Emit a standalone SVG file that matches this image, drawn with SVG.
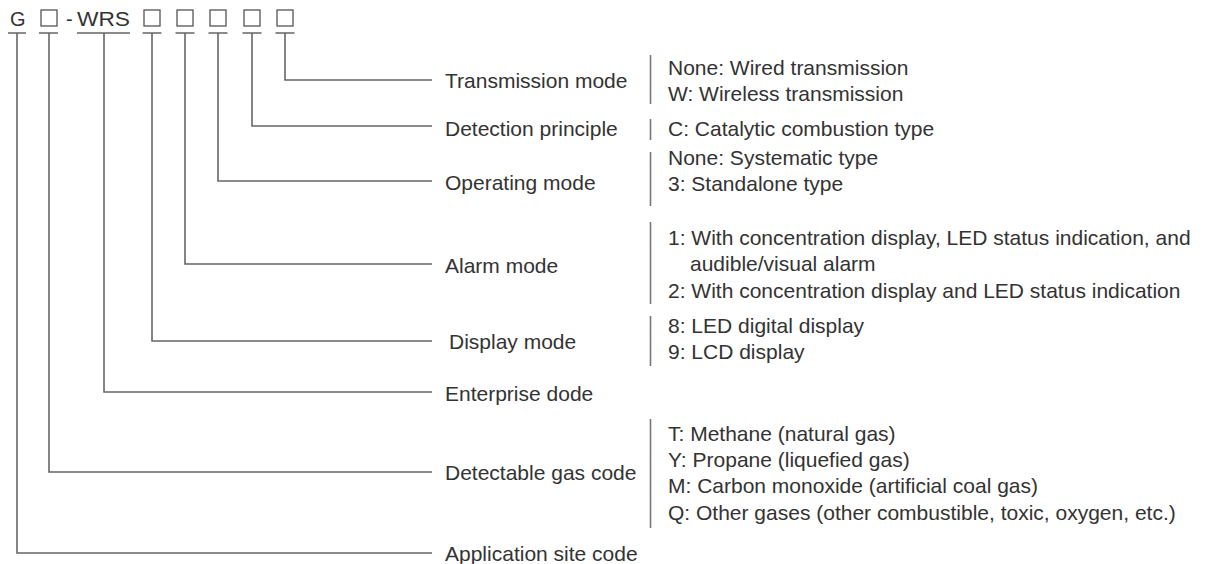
<svg xmlns="http://www.w3.org/2000/svg" width="1212" height="564" viewBox="0 0 1212 564">
<style>
text{font-family:"Liberation Sans",Arial,sans-serif;font-size:21px;fill:#333}
.hd{font-size:20px}
.ln{stroke:#666;stroke-width:1.6;fill:none}
.bar{stroke:#777;stroke-width:1.6;fill:none}
.box{stroke:#555;stroke-width:1.3;fill:none}
</style>
<rect width="1212" height="564" fill="#fff"/>
<g id="code">
<text class="hd" x="10" y="26">G</text>
<rect class="box" x="41" y="10" width="16" height="16"/>
<text class="hd" x="66" y="26">-</text>
<text class="hd" x="77" y="26" textLength="53" lengthAdjust="spacingAndGlyphs">WRS</text>
<rect class="box" x="144" y="10" width="16" height="16"/>
<rect class="box" x="177" y="10" width="16" height="16"/>
<rect class="box" x="210" y="10" width="16" height="16"/>
<rect class="box" x="244" y="10" width="16" height="16"/>
<rect class="box" x="277" y="10" width="16" height="16"/>
</g>
<g id="connectors">
<path class="ln" d="M8 33H26M39 33H58M77 33H130M142.5 33H161.5M175.5 33H194.5M208.5 33H227.5M242.5 33H261.5M275.5 33H294.5"/>
<path class="ln" d="M285 33V80H432"/>
<path class="ln" d="M252 33V126H432"/>
<path class="ln" d="M218 33V181H432"/>
<path class="ln" d="M185 33V264H432"/>
<path class="ln" d="M152 33V341H432"/>
<path class="ln" d="M104 33V392H432"/>
<path class="ln" d="M49 33V472H432"/>
<path class="ln" d="M17 33V553H432"/>
</g>
<g id="transmission">
<text x="445" y="88">Transmission mode</text>
<line class="bar" x1="650.5" y1="55" x2="650.5" y2="104"/>
<text x="668" y="74.5">None: Wired transmission</text>
<text x="668" y="101">W: Wireless transmission</text>
</g>
<g id="detection">
<text x="445" y="135.5">Detection principle</text>
<line class="bar" x1="650.5" y1="119" x2="650.5" y2="140"/>
<text x="668" y="136">C: Catalytic combustion type</text>
</g>
<g id="operating">
<text x="445" y="189.5">Operating mode</text>
<line class="bar" x1="650.5" y1="152" x2="650.5" y2="206"/>
<text x="668" y="164.5">None: Systematic type</text>
<text x="668" y="190.5">3: Standalone type</text>
</g>
<g id="alarm">
<text x="445" y="272.5">Alarm mode</text>
<line class="bar" x1="650.5" y1="222" x2="650.5" y2="304"/>
<text x="668" y="244.5">1: With concentration display, LED status indication, and</text>
<text x="690" y="270.5">audible/visual alarm</text>
<text x="668" y="297.5">2: With concentration display and LED status indication</text>
</g>
<g id="display">
<text x="449" y="348.5">Display mode</text>
<line class="bar" x1="650.5" y1="316" x2="650.5" y2="366"/>
<text x="668" y="332.5">8: LED digital display</text>
<text x="668" y="358.5">9: LCD display</text>
</g>
<g id="enterprise">
<text x="445" y="400.5">Enterprise dode</text>
</g>
<g id="gas">
<text x="445" y="479.5">Detectable gas code</text>
<line class="bar" x1="650.5" y1="419" x2="650.5" y2="528"/>
<text x="668" y="440.5">T: Methane (natural gas)</text>
<text x="668" y="466.5">Y: Propane (liquefied gas)</text>
<text x="668" y="492.5">M: Carbon monoxide (artificial coal gas)</text>
<text x="668" y="519.5">Q: Other gases (other combustible, toxic, oxygen, etc.)</text>
</g>
<g id="site">
<text x="445" y="560.5">Application site code</text>
</g>
</svg>
